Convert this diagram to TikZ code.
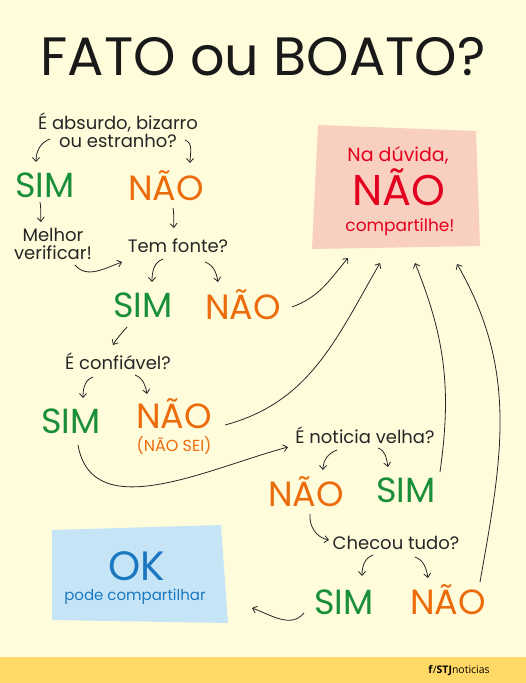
\documentclass[tikz,border=0pt]{standalone}
\usepackage{fontspec}
\setmainfont{Poppins}
\newfontfamily\rodape{Open Sans}
\usetikzlibrary{arrows.meta,calc}
\definecolor{fundo}{RGB}{255,252,220}
\definecolor{faixa}{RGB}{255,217,102}
\definecolor{verde}{RGB}{26,143,58}
\definecolor{laranja}{RGB}{236,108,12}
\definecolor{vermelho}{RGB}{226,0,30}
\definecolor{azul}{RGB}{27,120,192}
\definecolor{rosa}{RGB}{249,207,192}
\definecolor{celeste}{RGB}{197,229,247}

\begin{document}
\begin{tikzpicture}[x=1pt, y=1pt,
    titulo/.style={font=\fontsize{54}{54}\selectfont, text=black!90},
    ask/.style={font=\fontsize{18}{17.5}\selectfont, text=black!85, align=center, inner sep=0pt},
    sim/.style={font=\fontsize{35}{35}\selectfont, text=verde, inner sep=0pt},
    nao/.style={font=\fontsize{35}{35}\selectfont, text=laranja, inner sep=0pt},
    arr/.style={-{Straight Barb[length=4pt,width=7pt]}, line width=0.8pt, black!85}]
    \useasboundingbox (0,0) rectangle (526,-683);
    \fill[fundo] (0,0) rectangle (526,-683);
    \fill[faixa] (0,-657) rectangle (526,-683);
    \fill[rosa] (318,-125) -- (476,-131) -- (480,-246) -- (312,-249) -- cycle;
    \fill[celeste] (52,-530) -- (221,-525) -- (228,-623) -- (52,-620) -- cycle;

    \node[titulo] (titulo) at (263,-57) {FATO ou BOATO?};

    \node[ask] (absurdo) at (118,-130) {É absurdo, bizarro\\ou estranho?};
    \node[sim] (sim1) at (45,-185) {SIM};
    \node[nao] (nao1) at (166,-186) {NÃO};
    \node[ask] (verificar) at (53,-244) {Melhor\\verificar!};
    \node[ask] (fonte) at (178,-246) {Tem fonte?};
    \node[sim] (sim2) at (143,-305) {SIM};
    \node[nao] (nao2) at (243,-305) {NÃO};
    \node[ask] (confiavel) at (118,-361) {É confiável?};
    \node[sim] (sim3) at (71,-421) {SIM};
    \node[nao] (nao3) at (174,-414) {NÃO};
    \node[nao, font=\fontsize{16}{16}\selectfont] (naosei) at (174,-446) {(NÃO SEI)};
    \node[ask] (velha) at (365,-435) {É noticia velha?};
    \node[nao] (nao4) at (306,-492) {NÃO};
    \node[sim] (sim4) at (406,-490) {SIM};
    \node[ask] (checou) at (396,-543) {Checou tudo?};
    \node[sim] (sim5) at (344,-602) {SIM};
    \node[nao] (nao5) at (448,-600) {NÃO};

    \node[text=vermelho, font=\fontsize{19}{19}\selectfont, inner sep=0pt] (navida) at (398,-155) {Na dúvida,};
    \node[text=vermelho, font=\fontsize{43}{43}\selectfont, inner sep=0pt] (duvida) at (399,-187) {NÃO};
    \node[text=vermelho, font=\fontsize{17}{17}\selectfont, inner sep=0pt] (naocomp) at (400,-227) {compartilhe!};

    \node[text=azul, font=\fontsize{41}{41}\selectfont, inner sep=0pt] (ok) at (137,-566) {OK};
    \node[text=azul, font=\fontsize{15}{15}\selectfont, inner sep=0pt] (podecomp) at (135,-597) {pode compartilhar};

    \node[font=\rodape\fontsize{10.5}{10.5}\selectfont, inner sep=0pt] (stj) at (459,-671) {\textbf{f}/\textbf{STJ}noticias};

    % setas
    \draw[arr] ([shift={(-68,-9)}]absurdo.center) to[out=200,in=90] ([shift={(-9,23)}]sim1.center);
    \draw[arr] ([shift={(67,-10)}]absurdo.center) to[out=-20,in=90] ([shift={(24,23)}]nao1.center);
    \draw[arr] ([shift={(-5,-17)}]sim1.center) to[out=-80,in=95] ([shift={(-12,22)}]verificar.center);
    \draw[arr] ([shift={(7,-22)}]nao1.center) to[out=-80,in=95] ([shift={(-4,18)}]fonte.center);
    \draw[arr] ([shift={(22,-21)}]verificar.center) to[out=-50,in=200] ([shift={(-56,-16)}]fonte.center);
    \draw[arr] ([shift={(-15,-13)}]fonte.center) to[out=200,in=90] ([shift={(9,23)}]sim2.center);
    \draw[arr] ([shift={(27,-16)}]fonte.center) to[out=-20,in=100] ([shift={(-25,23)}]nao2.center);
    \draw[arr] ([shift={(49,-2)}]nao2.center) to[out=20,in=230] ([shift={(-51,-71)}]duvida.center);
    \draw[arr] ([shift={(-16,-22)}]sim2.center) to[out=-130,in=60] ([shift={(-5,16)}]confiavel.center);
    \draw[arr] ([shift={(-25,-16)}]confiavel.center) to[out=200,in=90] ([shift={(12,23)}]sim3.center);
    \draw[arr] ([shift={(17,-14)}]confiavel.center) to[out=-20,in=100] ([shift={(-27,20)}]nao3.center);
    \draw[arr] ([shift={(51,-11)}]nao3.center) to[out=15,in=240] ([shift={(-19,-76)}]duvida.center);
    \draw[arr] ([shift={(7,-24)}]sim3.center) to[out=-80,in=195] ([shift={(-77,-12)}]velha.center);
    \draw[arr] ([shift={(-28,-15)}]velha.center) to[out=200,in=90] ([shift={(17,22)}]nao4.center);
    \draw[arr] ([shift={(13,-13)}]velha.center) to[out=-20,in=100] ([shift={(-18,23)}]sim4.center);
    \draw[arr] ([shift={(34,18)}]sim4.center) to[out=82,in=-68] ([shift={(16,-76)}]duvida.center);
    \draw[arr] ([shift={(32,18)}]nao5.center) to[out=80,in=-60] ([shift={(58,-77)}]duvida.center);
    \draw[arr] ([shift={(4,-22)}]nao4.center) to[out=-95,in=170] ([shift={(-67,3)}]checou.center);
    \draw[arr] ([shift={(-23,-12)}]checou.center) to[out=200,in=90] ([shift={(18,26)}]sim5.center);
    \draw[arr] ([shift={(19,-14)}]checou.center) to[out=-20,in=100] ([shift={(-20,22)}]nao5.center);
    \draw[arr] ([shift={(-40,-11)}]sim5.center) to[out=-130,in=-20] ([shift={(115,-42)}]ok.center);
\end{tikzpicture}
\end{document}
